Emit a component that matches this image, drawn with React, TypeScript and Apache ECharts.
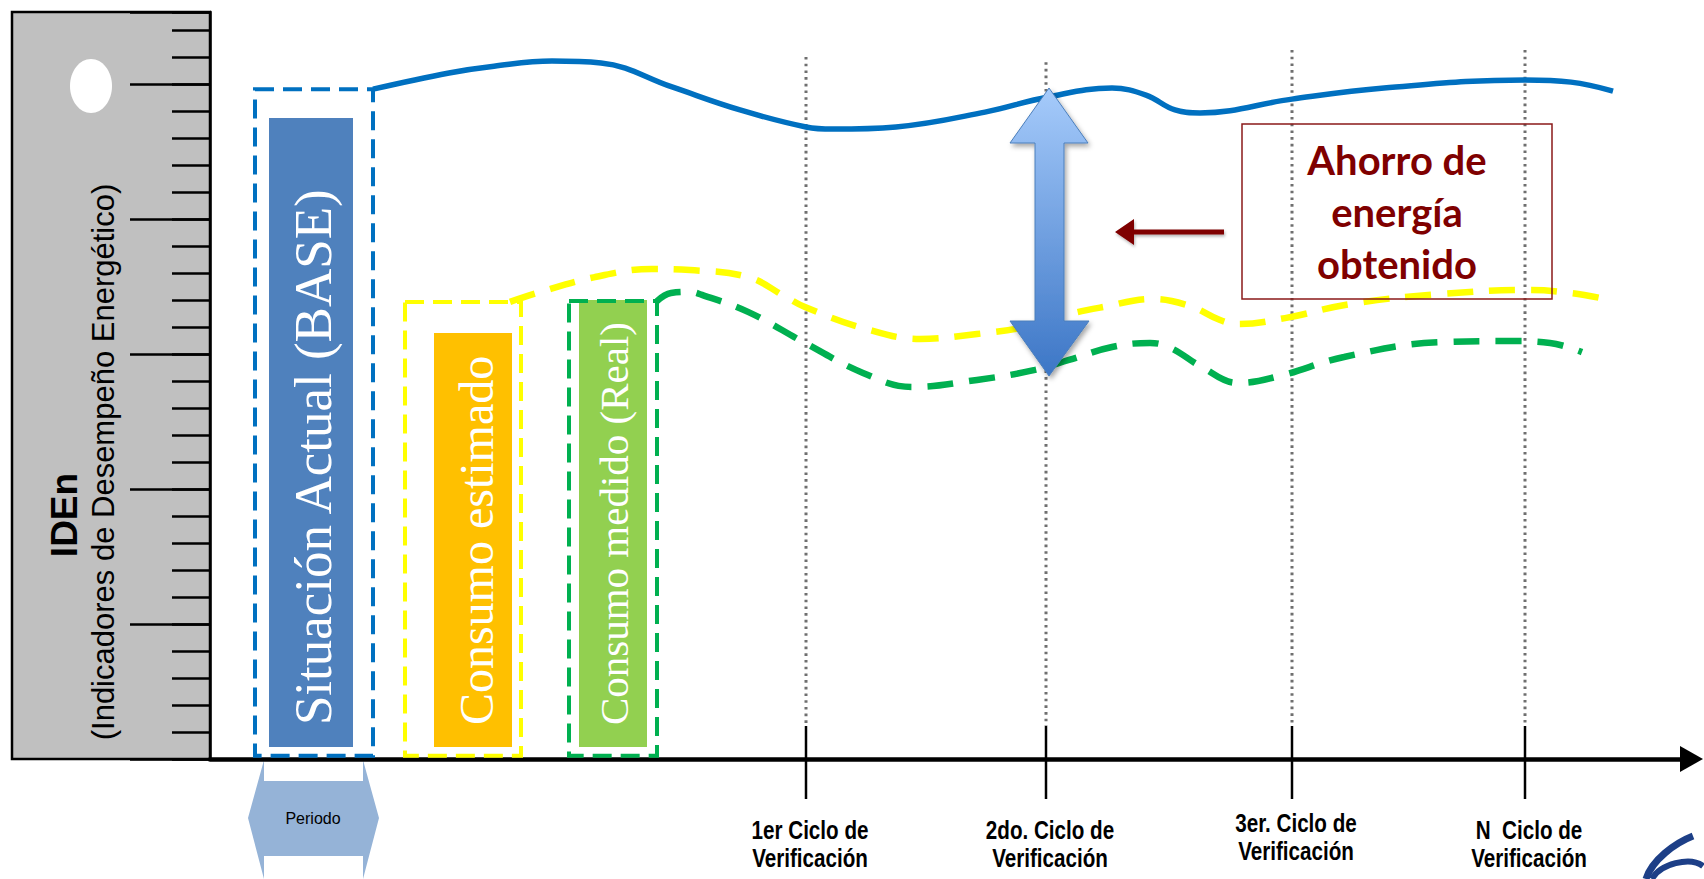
import React, { useEffect, useRef } from 'react';
import * as echarts from 'echarts';

// ---------- data (axis units: x = time, y = IDEn) ----------
const yTopValue = 27.667;
const xEndValue = 1481.5;

const baseLine: number[][] = [
  [163, 24.81], [239, 25.41], [284, 25.66], [342, 25.85], [391, 25.78], [462, 24.89], [530, 24.04],
  [596, 23.41], [623, 23.33], [686, 23.41], [775, 23.96], [838, 24.52], [902, 24.85], [936, 24.59],
  [965, 24.04], [990, 23.93], [1082, 24.44], [1174, 24.85], [1315, 25.15], [1361, 25.07], [1403, 24.74],
];

const estimatedLine: number[][] = [
  [300, 16.93], [327, 17.26], [385, 17.85], [442, 18.15], [480, 18.11], [538, 17.85], [576, 17.11],
  [595, 16.74], [653, 15.96], [710, 15.56], [767, 15.74], [825, 16.07], [852, 16.41], [893, 16.74],
  [942, 17.04], [980, 16.78], [1010, 16.26], [1028, 16.11], [1075, 16.33], [1140, 16.85], [1230, 17.22],
  [1320, 17.37], [1361, 17.26], [1391, 17.07],
];

const measuredLine: number[][] = [
  [447, 16.96], [461, 17.26], [480, 17.3], [492, 17.19], [538, 16.56], [595, 15.41], [653, 14.3],
  [702, 13.78], [767, 14.04], [825, 14.41], [859, 14.78], [902, 15.26], [940, 15.41], [961, 15.22],
  [990, 14.56], [1028, 13.93], [1070, 14.19], [1134, 14.89], [1230, 15.44], [1299, 15.48], [1340, 15.41],
  [1372, 15.07],
];

const periodNames = ['Situación Actual (BASE)', 'Consumo estimado', 'Consumo medido (Real)'];
const periodBoxStart = [45, 195, 359];
const periodBoxEnd = [163, 311, 447];
const periodBoxTop = [24.81, 16.93, 16.96];
const barStart = [59, 224, 369];
const barEnd = [143, 302, 437];
const barTop = [23.74, 15.78, 17.0];
const barBase = 0.44;
const boxBase = 0.12;

const cycleLabels = [
  '1er Ciclo de\nVerificación',
  '2do. Ciclo de\nVerificación',
  '3er. Ciclo de\nVerificación',
  'N  Ciclo de\nVerificación',
];
const cycleX = [596, 836, 1082, 1315];
const cycleGuideTop = [26.0, 25.81, 26.26, 26.26];

const axisTitle = 'IDEn';
const axisSubtitle = '(Indicadores de Desempeño Energético)';
const periodLabel = 'Periodo';
const savingText = 'Ahorro de\nenergía\nobtenido';

// ---------- styles ----------
const boxColors = ['#0070C0', '#FFFF00', '#00B050'];
const barColors = ['#4F81BD', '#FFC000', '#92D050'];
const barFontSizes = [53, 48, 41];
const barTextShift = [2, 3, 1];
const cycleLabelLift = [0, 0, 7, 0];
const serif = '"Liberation Serif", "Times New Roman", serif';
const sans = '"Liberation Sans", Arial, sans-serif';
const darkRed = '#7F0000';

export default function App() {
  const ref = useRef<HTMLDivElement>(null);

  useEffect(() => {
    if (!ref.current) return;
    const chart = echarts.init(ref.current, undefined, { renderer: 'svg' });

    const option: any = {
      animation: false,
      backgroundColor: '#ffffff',
      grid: { left: 210, top: 12, right: 12.5, bottom: 120, containLabel: false },
      xAxis: {
        type: 'value',
        min: 0,
        max: xEndValue,
        axisLine: {
          show: true,
          symbol: ['none', 'triangle'],
          symbolSize: [26, 23],
          lineStyle: { color: '#000', width: 4.5 },
        },
        axisTick: { show: false },
        axisLabel: { show: false },
        splitLine: { show: false },
      },
      yAxis: [
        {
          type: 'value',
          position: 'left',
          min: 0,
          max: yTopValue,
          interval: 1,
          axisLine: { show: true, onZero: false, lineStyle: { color: '#000', width: 2.5 } },
          axisTick: { show: true, length: 38, lineStyle: { color: '#000', width: 2.5 } },
          axisLabel: { show: false },
          splitLine: { show: false },
        },
        {
          type: 'value',
          position: 'left',
          min: 0,
          max: yTopValue,
          interval: 5,
          axisLine: { show: false, onZero: false },
          axisTick: { show: true, length: 80, lineStyle: { color: '#000', width: 2.5 } },
          axisLabel: { show: false },
          splitLine: { show: false },
        },
      ],
      series: [
        {
          type: 'custom',
          name: 'cycles',
          clip: false,
          z: 1,
          data: cycleX.map((x, i) => [x, cycleGuideTop[i]]),
          renderItem: (params: any, api: any) => {
            const i = params.dataIndex;
            const top = api.coord([api.value(0), api.value(1)]);
            const base = api.coord([api.value(0), 0]);
            const x = base[0];
            return {
              type: 'group',
              children: [
                {
                  type: 'line',
                  shape: { x1: x, y1: top[1], x2: x, y2: base[1] - 33 },
                  style: { stroke: '#6F6F6F', lineWidth: 3, lineDash: [2.6, 4.1] },
                },
                {
                  type: 'line',
                  shape: { x1: x, y1: base[1] - 33, x2: x, y2: base[1] + 40 },
                  style: { stroke: '#000', lineWidth: 2.5 },
                },
                {
                  type: 'text',
                  x: x + 4,
                  y: base[1] + 57 - cycleLabelLift[i],
                  scaleX: 0.825,
                  style: {
                    text: cycleLabels[i],
                    fill: '#000',
                    fontSize: 25,
                    fontWeight: 'bold',
                    fontFamily: sans,
                    lineHeight: 28,
                    align: 'center',
                    textAlign: 'center',
                    verticalAlign: 'top',
                    textVerticalAlign: 'top',
                  },
                },
              ],
            };
          },
        },
        {
          type: 'custom',
          name: 'periods',
          clip: false,
          z: 2,
          data: periodNames.map((_, i) => [
            periodBoxStart[i], periodBoxEnd[i], periodBoxTop[i], barStart[i], barEnd[i], barTop[i],
          ]),
          renderItem: (params: any, api: any) => {
            const i = params.dataIndex;
            const tl = api.coord([api.value(0), api.value(2)]);
            const br = api.coord([api.value(1), boxBase]);
            const ftl = api.coord([api.value(3), api.value(5)]);
            const fbr = api.coord([api.value(4), barBase]);
            return {
              type: 'group',
              children: [
                {
                  type: 'rect',
                  shape: { x: ftl[0], y: ftl[1], width: fbr[0] - ftl[0], height: fbr[1] - ftl[1] },
                  style: { fill: barColors[i] },
                },
                {
                  type: 'text',
                  x: (ftl[0] + fbr[0]) / 2 + barTextShift[i],
                  y: fbr[1] - 22,
                  rotation: Math.PI / 2,
                  style: {
                    text: periodNames[i],
                    fill: '#ffffff',
                    fontSize: barFontSizes[i],
                    fontFamily: serif,
                    align: 'left',
                    textAlign: 'left',
                    verticalAlign: 'middle',
                    textVerticalAlign: 'middle',
                  },
                },
                {
                  type: 'rect',
                  shape: { x: tl[0], y: tl[1], width: br[0] - tl[0], height: br[1] - tl[1] },
                  style: { fill: 'none', stroke: boxColors[i], lineWidth: 4, lineDash: [19, 9] },
                },
              ],
            };
          },
        },
        {
          type: 'line',
          name: 'Situación Actual (BASE)',
          data: baseLine,
          smooth: 0.4,
          showSymbol: false,
          z: 3,
          lineStyle: { color: '#0070C0', width: 5.5 },
        },
        {
          type: 'line',
          name: 'Consumo estimado',
          data: estimatedLine,
          smooth: 0.4,
          showSymbol: false,
          z: 3,
          lineStyle: { color: '#FFFF00', width: 6.5, type: [26, 16] },
        },
        {
          type: 'line',
          name: 'Consumo medido (Real)',
          data: measuredLine,
          smooth: 0.4,
          showSymbol: false,
          z: 3,
          lineStyle: { color: '#00B050', width: 6.5, type: [26, 16] },
        },
      ],
      graphic: [
        {
          type: 'rect',
          z: -1,
          shape: { x: 12, y: 12, width: 198, height: 747 },
          style: { fill: '#C0C0C0', stroke: '#000', lineWidth: 2.5 },
        },
        {
          type: 'ellipse',
          shape: { cx: 91, cy: 86, rx: 21, ry: 27 },
          style: { fill: '#ffffff' },
        },
        {
          type: 'text',
          x: 64,
          y: 515,
          rotation: Math.PI / 2,
          style: {
            text: axisTitle,
            fill: '#000',
            fontSize: 37,
            fontWeight: 'bold',
            fontFamily: sans,
            align: 'center',
            textAlign: 'center',
            verticalAlign: 'middle',
            textVerticalAlign: 'middle',
          },
        },
        {
          type: 'text',
          x: 103,
          y: 462,
          rotation: Math.PI / 2,
          style: {
            text: axisSubtitle,
            fill: '#000',
            fontSize: 31,
            fontFamily: sans,
            align: 'center',
            textAlign: 'center',
            verticalAlign: 'middle',
            textVerticalAlign: 'middle',
          },
        },
        {
          type: 'polygon',
          shape: {
            points: [
              [248, 818], [264, 760], [264, 781], [363, 781], [363, 760], [379, 818],
              [363, 879], [363, 856], [264, 856], [264, 879],
            ],
          },
          style: { fill: '#95B3D7' },
        },
        {
          type: 'text',
          x: 313,
          y: 818,
          style: {
            text: periodLabel,
            fill: '#000',
            fontSize: 16,
            fontFamily: sans,
            align: 'center',
            textAlign: 'center',
            verticalAlign: 'middle',
            textVerticalAlign: 'middle',
          },
        },
        {
          type: 'polygon',
          z: 10,
          shape: {
            points: [
              [1049, 88], [1088, 143], [1064, 143], [1064, 321], [1089, 321], [1049, 376],
              [1010, 321], [1035, 321], [1035, 143], [1010, 143],
            ],
          },
          style: {
            fill: {
              type: 'linear', x: 0, y: 0, x2: 0, y2: 1,
              colorStops: [
                { offset: 0, color: '#A6CBFB' },
                { offset: 1, color: '#3C76C6' },
              ],
            },
            stroke: '#4A7EBB',
            lineWidth: 1,
            shadowBlur: 5,
            shadowOffsetX: 2,
            shadowOffsetY: 3,
            shadowColor: 'rgba(0,0,0,0.35)',
          },
        },
        {
          type: 'polygon',
          z: 10,
          shape: {
            points: [
              [1115, 232], [1134, 219], [1134, 229.5], [1224, 229.5], [1224, 234.5], [1134, 234.5], [1134, 245],
            ],
          },
          style: {
            fill: darkRed,
            shadowBlur: 3, shadowOffsetX: 1, shadowOffsetY: 2, shadowColor: 'rgba(0,0,0,0.3)',
          },
        },
        {
          type: 'rect',
          z: 10,
          shape: { x: 1242, y: 124, width: 310, height: 175 },
          style: { fill: 'none', stroke: '#8B1A1A', lineWidth: 1.5 },
        },
        {
          type: 'text',
          z: 10,
          x: 1397,
          y: 212,
          style: {
            text: savingText,
            fill: darkRed,
            fontSize: 40,
            fontWeight: 'bold',
            fontFamily: 'Lato, "Noto Sans", sans-serif',
            lineHeight: 52,
            align: 'center',
            textAlign: 'center',
            verticalAlign: 'middle',
            textVerticalAlign: 'middle',
          },
        },
        {
          type: 'bezierCurve',
          shape: { x1: 1693, y1: 836, cpx1: 1675, cpy1: 843, cpx2: 1652, cpy2: 860, x2: 1646, y2: 879 },
          style: { stroke: '#1D3F87', lineWidth: 7, fill: 'none' },
        },
        {
          type: 'bezierCurve',
          shape: { x1: 1652, y1: 879, cpx1: 1660, cpy1: 864, cpx2: 1690, cpy2: 856, x2: 1703, y2: 866 },
          style: { stroke: '#1D3F87', lineWidth: 6, fill: 'none' },
        },
      ],
    };

    chart.setOption(option);
    return () => {
      chart.dispose();
    };
  }, []);

  return (
    <div
      ref={ref}
      style={{ position: 'absolute', left: 0, top: 0, width: '1704px', height: '879px' }}
    />
  );
}
